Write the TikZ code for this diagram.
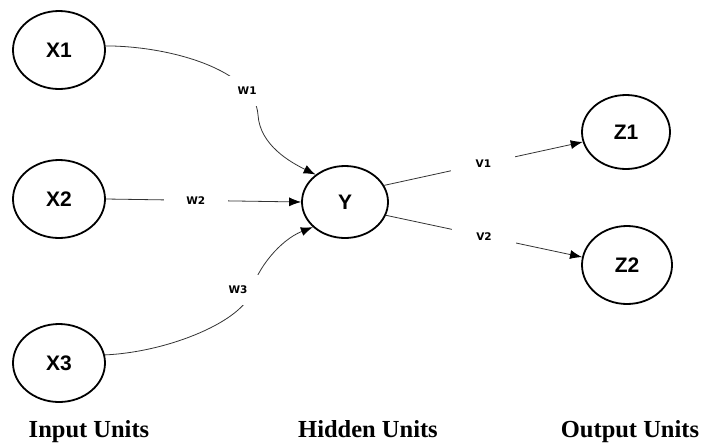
\documentclass[tikz,border=0pt]{standalone}
\usepackage{fontspec}
\setmainfont{Liberation Serif}
\newfontfamily\unitfont{Liberation Sans}
\newfontfamily\weightfont{DejaVu Sans}
\usetikzlibrary{shapes.geometric,arrows.meta}
\begin{document}
\begin{tikzpicture}[x=1pt,y=-1pt,
  unit/.style={ellipse, draw, line width=1.8pt, minimum width=92pt,
    minimum height=78pt, inner sep=0pt,
    font=\unitfont\bfseries\fontsize{21}{21}\selectfont},
  conn/.style={draw=black!80, line width=0.8pt,
    -{Latex[length=12pt,width=9pt,color=black]}},
  wlab/.style={fill=white, minimum width=64pt, minimum height=30pt,
    inner sep=0pt, font=\weightfont\bfseries\fontsize{10.5}{11}\selectfont},
  caption/.style={anchor=base, font=\bfseries\fontsize{24.5}{25}\selectfont}]
\path[use as bounding box] (0,0) rectangle (706,445);

% units
\node[unit] (X1) at (59,50) {X1};
\node[unit] (X2) at (59,199) {X2};
\node[unit] (X3) at (59,363) {X3};
\node[unit, minimum width=86pt, minimum height=72pt] (Y) at (345,202) {Y};
\node[unit, minimum width=88pt, minimum height=74pt] (Z1) at (626,132) {Z1};
\node[unit, minimum width=90pt, minimum height=78pt] (Z2) at (627,265) {Z2};

% input -> hidden
\draw[conn] (X1.5) .. controls (170,46) and (255,70) .. node[wlab, pos=0.8] (w1) {W1}
  (258,115) .. controls (260,145) and (290,162) .. (Y.137);
\draw[conn] (X2.east) -- node[wlab, pos=0.46] (w2) {W2} (Y.west);
\draw[conn] (X3.10) .. controls (170,352) and (245,320) ..
  (252,290) node[wlab, xshift=-14pt] (w3) {W3}
  .. controls (257,269) and (280,240) .. (Y.218);

% hidden -> output
\draw[conn] (Y.23) -- node[wlab] (v1) {V1} (Z1.193);
\draw[conn] (Y.342) -- node[wlab] (v2) {V2} (Z2.170);

% layer captions
\node[caption] (inlab) at (89,437) {Input Units};
\node[caption] (hidlab) at (368,437) {Hidden Units};
\node[caption] (outlab) at (630,437) {Output Units};
\end{tikzpicture}
\end{document}
